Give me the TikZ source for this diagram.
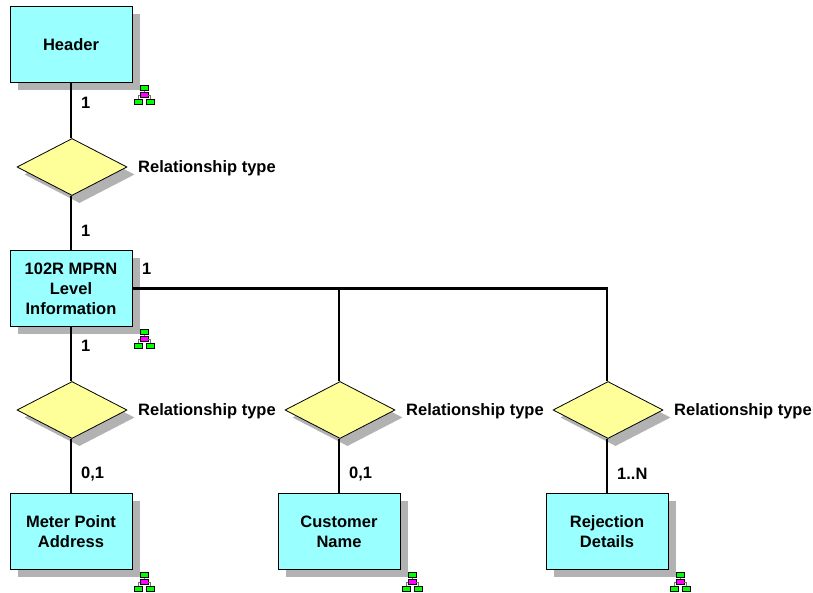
\documentclass[tikz,border=0pt]{standalone}
\usepackage{fontspec}
\setmainfont{Liberation Sans}
\usetikzlibrary{shapes.geometric}
\definecolor{boxfill}{RGB}{153,255,255}
\definecolor{diafill}{RGB}{255,255,153}
\definecolor{shadowgray}{RGB}{178,178,178}
\definecolor{icongreen}{RGB}{0,255,0}
\definecolor{iconmag}{RGB}{255,0,255}
\tikzset{
  x=1pt,y=-1pt,
  txt/.style={font=\fontsize{16.5}{20}\selectfont\bfseries,text=black,inner sep=0pt},
  ent/.style={rectangle,draw=black,line width=1pt,fill=boxfill,minimum width=122pt,minimum height=75.5pt,inner sep=0pt,align=center,txt},
  entshadow/.style={rectangle,fill=shadowgray,minimum width=122pt,minimum height=75.5pt,inner sep=0pt},
  rel/.style={diamond,aspect=1.93,draw=black,line width=0.8pt,fill=diafill,minimum width=110pt,minimum height=57pt,inner sep=0pt},
  relshadow/.style={diamond,aspect=1.93,fill=shadowgray,minimum width=110pt,minimum height=57pt,inner sep=0pt},
  link/.style={line width=2.4pt,draw=black},
  lab/.style={txt,anchor=west},
  ibox/.style={rectangle,draw=black,line width=0.7pt,minimum width=8pt,minimum height=5.5pt,inner sep=0pt},
  ilink/.style={draw=black!55,line width=0.9pt},
  pics/tree/.style={code={
    \node[ibox,fill=icongreen] (-t) at (0,-7) {};
    \node[ibox,fill=iconmag] (-m) at (0,0) {};
    \node[ibox,fill=icongreen] (-l) at (-6,7) {};
    \node[ibox,fill=icongreen] (-r) at (6,7) {};
    \draw[ilink] (-t) -- (-m);
    \draw[ilink] (-m.west) -| (-l.north);
    \draw[ilink] (-m.east) -| (-r.north);
  }}
}
\begin{document}
\begin{tikzpicture}
\useasboundingbox[fill=white] (0,0) rectangle (813,593);
% shadows
\foreach \x/\y in {71/44.5,71/288.5,71/531.5,339/531.5,607/531.5}
  \node[entshadow] at (\x+7.5,\y+7.5) {};
\foreach \x/\y in {72/167,72/410,340/410,608/410}
  \node[relshadow] at (\x+7.5,\y+7.5) {};
% entities
\node[ent] (header) at (71,44.5) {Header};
\node[ent] (mprn) at (71,288.5) {102R MPRN\\Level\\Information};
\node[ent] (meter) at (71,531.5) {\rule{0pt}{13pt}Meter Point\\Address};
\node[ent] (cust) at (339,531.5) {\rule{0pt}{13pt}Customer\\Name};
\node[ent] (rej) at (607,531.5) {\rule{0pt}{13pt}Rejection\\Details};
% relationships
\node[rel] (r1) at (72,167) {};
\node[rel] (r2) at (72,410) {};
\node[rel] (r3) at (340,410) {};
\node[rel] (r4) at (608,410) {};
% connectors
\draw[link] (header.south) -- (header.south |- r1.north);
\draw[link] (header.south |- r1.south) -- (mprn.north);
\draw[link] (mprn.south) -- (mprn.south |- r2.north);
\draw[link] (meter.north |- r2.south) -- (meter.north);
\draw[link] (cust.north |- r3.south) -- (cust.north);
\draw[link] (rej.north |- r4.south) -- (rej.north);
\draw[link] (mprn.east) -| (cust.north |- r3.north);
\draw[link] (mprn.east) -| (rej.north |- r4.north);
% labels
\node[lab] (lr1) at (138,168) {Relationship type};
\node[lab] (lr2) at (138,411) {Relationship type};
\node[lab] (lr3) at (406,411) {Relationship type};
\node[lab] (lr4) at (674,411) {Relationship type};
\node[lab] (c1) at (81,103) {1};
\node[lab] (c2) at (81,231) {1};
\node[lab] (c3) at (142,269) {1};
\node[lab] (c4) at (81,346) {1};
\node[lab] (c5) at (81,474) {0,1};
\node[lab] (c6) at (349,474) {0,1};
\node[lab] (c7) at (617,474) {1..N};
% icons
\pic (i1) at (144,95) {tree};
\pic (i2) at (144,339) {tree};
\pic (i3) at (144,582) {tree};
\pic (i4) at (412,582) {tree};
\pic (i5) at (680,582) {tree};
\end{tikzpicture}
\end{document}
